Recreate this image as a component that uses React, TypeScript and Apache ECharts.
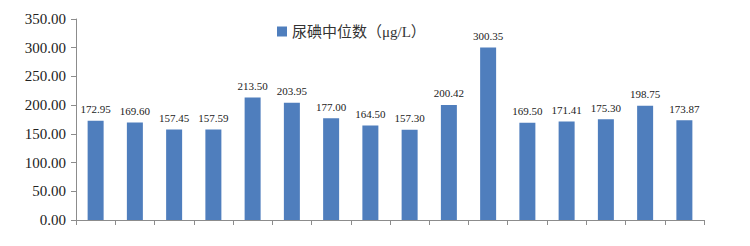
import React, { useEffect, useRef } from "react";
import * as echarts from "echarts";

const categories = ["1", "2", "3", "4", "5", "6", "7", "8", "9", "10", "11", "12", "13", "14", "15", "16"];
const values = [172.95, 169.6, 157.45, 157.59, 213.5, 203.95, 177.0, 164.5, 157.3, 200.42, 300.35, 169.5, 171.41, 175.3, 198.75, 173.87];
const seriesName = "尿碘中位数（μg/L）";
const yMin = 0;
const yMax = 350;
const yInterval = 50;

export default function App() {
  const ref = useRef<HTMLDivElement>(null);
  useEffect(() => {
    if (!ref.current) return;
    const chart = echarts.init(ref.current, undefined, { renderer: "svg" });
    const serif = "'Liberation Serif', 'Times New Roman', 'Noto Sans CJK SC', serif";
    chart.setOption({
      animation: false,
      backgroundColor: "#ffffff",
      grid: { left: 76, right: 46, top: 19, bottom: 26, containLabel: false },
      legend: {
        show: true,
        left: 277,
        top: 24,
        padding: 0,
        itemWidth: 10,
        itemHeight: 10,
        icon: "rect",
        itemGap: 10,
        textStyle: { fontFamily: serif, fontSize: 15, color: "#333333" },
        data: [seriesName],
      },
      xAxis: {
        type: "category",
        data: categories,
        boundaryGap: true,
        axisLine: { show: true, lineStyle: { color: "#8c8c8c", width: 1 } },
        axisTick: { show: true, length: 5, inside: false, lineStyle: { color: "#8c8c8c" } },
        axisLabel: { show: false },
        splitLine: { show: false },
      },
      yAxis: {
        type: "value",
        min: yMin,
        max: yMax,
        interval: yInterval,
        axisLine: { show: true, lineStyle: { color: "#8c8c8c", width: 1 } },
        axisTick: { show: true, length: 5, lineStyle: { color: "#8c8c8c" } },
        splitLine: { show: false },
        axisLabel: {
          margin: 10,
          fontFamily: serif,
          fontSize: 15,
          color: "#222222",
          formatter: (v: number) => v.toFixed(2),
        },
      },
      series: [
        {
          name: seriesName,
          type: "bar",
          data: values,
          barWidth: 16,
          itemStyle: { color: "#4F7EBD" },
          label: {
            show: true,
            position: "top",
            distance: 6,
            fontFamily: serif,
            fontSize: 11,
            color: "#222222",
            formatter: (p: any) => Number(p.value).toFixed(2),
          },
        },
      ],
    });
    return () => chart.dispose();
  }, []);
  return (
    <div
      ref={ref}
      style={{ position: "fixed", left: 0, top: 0, width: 750, height: 246, background: "#fff" }}
    />
  );
}
